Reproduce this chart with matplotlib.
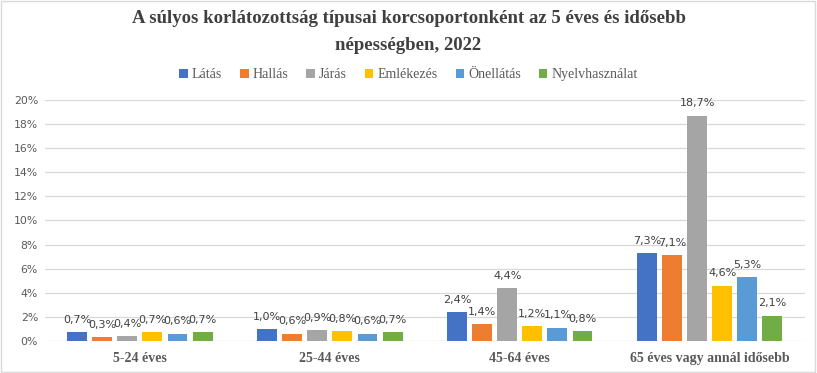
import matplotlib
matplotlib.use("Agg")
import matplotlib.pyplot as plt
import numpy as np
from matplotlib.patches import Rectangle

categories = ["5-24 éves", "25-44 éves", "45-64 éves", "65 éves vagy annál idősebb"]
series_names = ["Látás", "Hallás", "Járás", "Emlékezés", "Önellátás", "Nyelvhasználat"]
latas = [0.7, 1.0, 2.4, 7.3]
hallas = [0.3, 0.6, 1.4, 7.1]
jaras = [0.4, 0.9, 4.4, 18.7]
emlekezes = [0.7, 0.8, 1.2, 4.6]
onellatas = [0.6, 0.6, 1.1, 5.3]
nyelv = [0.7, 0.7, 0.8, 2.1]
series_values = [latas, hallas, jaras, emlekezes, onellatas, nyelv]
colors = ["#4472C4", "#ED7D31", "#A5A5A5", "#FFC000", "#5B9BD5", "#70AD47"]
yticks = [0, 2, 4, 6, 8, 10, 12, 14, 16, 18, 20]

fig = plt.figure(figsize=(8.17, 3.73), dpi=100)
ax = fig.add_axes([0.055, 0.086, 0.93, 0.646])

x = np.arange(len(categories))
step = 0.132
width = 0.105
for i, (name, vals, c) in enumerate(zip(series_names, series_values, colors)):
    pos = x + (i - 2.5) * step
    bars = ax.bar(pos, vals, width=width, color=c, label=name, zorder=3)
    for b, v in zip(bars, vals):
        ax.text(b.get_x() + b.get_width() / 2, v + 0.6, f"{v:.1f}%".replace(".", ","),
                ha="center", va="bottom", fontsize=8, color="#404040",
                family="DejaVu Sans")

ax.set_xlim(-0.5, len(categories) - 0.5)
ax.set_ylim(0, 20)
ax.set_yticks(yticks)
ax.set_yticklabels([f"{t}%" for t in yticks], fontsize=7.8, color="#595959")
ax.set_xticks(x)
ax.set_xticklabels(categories, fontsize=10, fontweight="bold", color="#595959",
                   family="Liberation Serif")
ax.tick_params(axis="both", length=0)
ax.tick_params(axis="x", pad=8)
ax.tick_params(axis="y", pad=5)
ax.grid(axis="y", color="#D9D9D9", linewidth=0.9, zorder=0)
for s in ax.spines.values():
    s.set_visible(False)

fig.text(0.5, 0.972, "A súlyos korlátozottság típusai korcsoportonként az 5 éves és idősebb\nnépességben, 2022",
         ha="center", va="top", fontsize=13.5, fontweight="bold", color="#404040",
         family="Liberation Serif", linespacing=1.7)

leg = fig.legend(loc="center", bbox_to_anchor=(0.5, 0.8), ncol=6, frameon=False,
                 prop={"family": "Liberation Serif", "size": 10},
                 handlelength=0.6, handleheight=0.6, handletextpad=0.3, columnspacing=1.3)
for t in leg.get_texts():
    t.set_color("#595959")

fig.patches.append(Rectangle((0.001, 0.002), 0.997, 0.995, transform=fig.transFigure,
                             fill=False, edgecolor="#D9D9D9", linewidth=1))

fig.savefig("out.png", dpi=100)
